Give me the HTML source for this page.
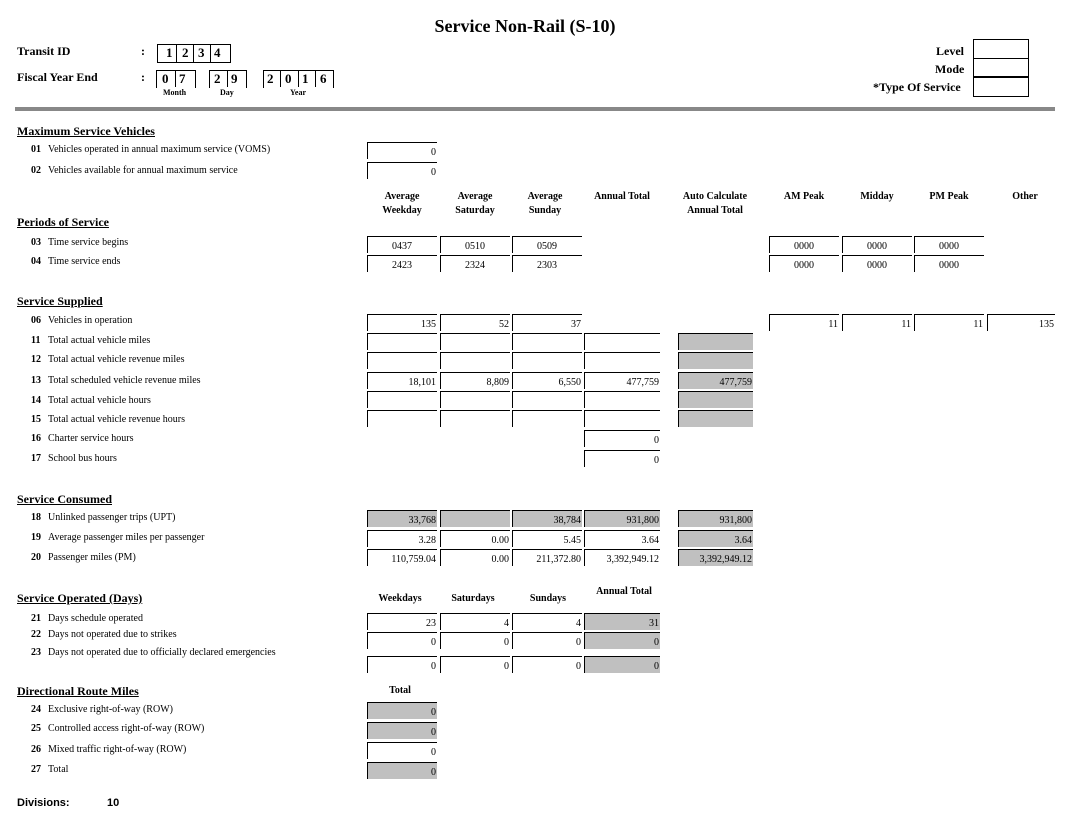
<!DOCTYPE html>
<html><head><meta charset="utf-8"><style>
body{margin:0;width:1082px;height:823px;background:#fff;position:relative;font-family:"Liberation Serif",serif;color:#000;overflow:hidden}
div{position:absolute;white-space:nowrap}
.l{font-size:10px;line-height:14px}
.n{font-weight:bold;left:31px}
.t{left:48px}
.h{font-size:12px;font-weight:bold;text-decoration:underline;left:17px;line-height:16px}
.c{height:17px;border-top:1px solid #000;border-left:1px solid #000;font-size:10px;text-align:right;line-height:20px;padding-right:1px;box-sizing:border-box}
.g{background:#c0c0c0}
.ch{font-size:10px;font-weight:bold;text-align:center;line-height:14px}
.bx{border:1px solid #000;font-size:13px;font-weight:bold;text-align:center;line-height:16px;height:15px;top:0}
.b{font-size:12px;font-weight:bold}
.sm{font-size:8px;font-weight:bold}
</style></head><body>
<div style="left:0;width:1050px;top:16px;text-align:center;font-size:18px;font-weight:bold">Service Non-Rail (S-10)</div>
<div class="b" style="left:17px;top:44px">Transit ID</div>
<div class="b" style="left:17px;top:70px">Fiscal Year End</div>
<div class="b" style="left:141px;top:44px">:</div>
<div class="b" style="left:141px;top:70px">:</div>
<div style="left:157px;top:44px;height:17px;width:72px;border:1px solid #000"></div>
<div class="b" style="left:166px;top:45px;font-size:13px">1</div>
<div class="b" style="left:182px;top:45px;font-size:13px">2</div>
<div class="b" style="left:198px;top:45px;font-size:13px">3</div>
<div class="b" style="left:214px;top:45px;font-size:13px">4</div>
<div style="left:176px;top:44px;width:1px;height:18px;background:#000"></div>
<div style="left:193px;top:44px;width:1px;height:18px;background:#000"></div>
<div style="left:210px;top:44px;width:1px;height:18px;background:#000"></div>
<div style="left:156px;top:70px;width:38px;height:17px;border-top:1px solid #000;border-left:1px solid #000;border-right:1px solid #000"></div>
<div style="left:175px;top:70px;width:1px;height:17px;background:#000"></div>
<div class="b" style="left:162px;top:71px;font-size:13px">0</div><div class="b" style="left:179px;top:71px;font-size:13px">7</div>
<div style="left:209px;top:70px;width:36px;height:17px;border-top:1px solid #000;border-left:1px solid #000;border-right:1px solid #000"></div>
<div style="left:227px;top:70px;width:1px;height:17px;background:#000"></div>
<div class="b" style="left:214px;top:71px;font-size:13px">2</div><div class="b" style="left:231px;top:71px;font-size:13px">9</div>
<div style="left:263px;top:70px;width:69px;height:17px;border-top:1px solid #000;border-left:1px solid #000;border-right:1px solid #000"></div>
<div style="left:280px;top:70px;width:1px;height:17px;background:#000"></div>
<div style="left:298px;top:70px;width:1px;height:17px;background:#000"></div>
<div style="left:315px;top:70px;width:1px;height:17px;background:#000"></div>
<div class="b" style="left:267px;top:71px;font-size:13px">2</div><div class="b" style="left:285px;top:71px;font-size:13px">0</div><div class="b" style="left:302px;top:71px;font-size:13px">1</div><div class="b" style="left:320px;top:71px;font-size:13px">6</div>
<div class="sm" style="left:163px;top:88px">Month</div>
<div class="sm" style="left:220px;top:88px">Day</div>
<div class="sm" style="left:290px;top:88px">Year</div>
<div class="b" style="left:936px;top:44px">Level</div>
<div class="b" style="left:935px;top:62px">Mode</div>
<div class="b" style="left:873px;top:80px">*Type Of Service</div>
<div style="left:973px;top:39px;width:54px;height:18px;border:1px solid #000"></div>
<div style="left:973px;top:58px;width:54px;height:17px;border:1px solid #000"></div>
<div style="left:973px;top:77px;width:54px;height:18px;border:1px solid #000"></div>
<div style="left:15px;top:107px;width:1040px;height:4px;background:#888"></div>

<div class="h" style="top:123px">Maximum Service Vehicles</div>
<div class="l n" style="top:143px">01</div><div class="l t" style="top:143px">Vehicles operated in annual maximum service (VOMS)</div>
<div class="l n" style="top:164px">02</div><div class="l t" style="top:164px">Vehicles available for annual maximum service</div>
<div class="c" style="left:367px;top:142px;width:70px">0</div>
<div class="c" style="left:367px;top:162px;width:70px">0</div>

<div class="ch" style="left:367px;width:70px;top:190px">Average<br>Weekday</div>
<div class="ch" style="left:440px;width:70px;top:190px">Average<br>Saturday</div>
<div class="ch" style="left:510px;width:70px;top:190px">Average<br>Sunday</div>
<div class="ch" style="left:584px;width:76px;top:190px">Annual Total</div>
<div class="ch" style="left:670px;width:90px;top:190px">Auto Calculate<br>Annual Total</div>
<div class="ch" style="left:769px;width:70px;top:190px">AM Peak</div>
<div class="ch" style="left:842px;width:70px;top:190px">Midday</div>
<div class="ch" style="left:914px;width:70px;top:190px">PM Peak</div>
<div class="ch" style="left:990px;width:70px;top:190px">Other</div>

<div class="h" style="top:214px">Periods of Service</div>
<div class="l n" style="top:236px">03</div><div class="l t" style="top:236px">Time service begins</div>
<div class="l n" style="top:255px">04</div><div class="l t" style="top:255px">Time service ends</div>
<div class="c" style="left:367px;top:236px;width:70px;text-align:center">0437</div>
<div class="c" style="left:440px;top:236px;width:70px;text-align:center">0510</div>
<div class="c" style="left:512px;top:236px;width:70px;text-align:center">0509</div>
<div class="c" style="left:769px;top:236px;width:70px;text-align:center">0000</div>
<div class="c" style="left:842px;top:236px;width:70px;text-align:center">0000</div>
<div class="c" style="left:914px;top:236px;width:70px;text-align:center">0000</div>
<div class="c" style="left:367px;top:255px;width:70px;text-align:center">2423</div>
<div class="c" style="left:440px;top:255px;width:70px;text-align:center">2324</div>
<div class="c" style="left:512px;top:255px;width:70px;text-align:center">2303</div>
<div class="c" style="left:769px;top:255px;width:70px;text-align:center">0000</div>
<div class="c" style="left:842px;top:255px;width:70px;text-align:center">0000</div>
<div class="c" style="left:914px;top:255px;width:70px;text-align:center">0000</div>

<div class="h" style="top:293px">Service Supplied</div>
<div class="l n" style="top:314px">06</div><div class="l t" style="top:314px">Vehicles in operation</div>
<div class="l n" style="top:334px">11</div><div class="l t" style="top:334px">Total actual vehicle miles</div>
<div class="l n" style="top:353px">12</div><div class="l t" style="top:353px">Total actual vehicle revenue miles</div>
<div class="l n" style="top:374px">13</div><div class="l t" style="top:374px">Total scheduled vehicle revenue miles</div>
<div class="l n" style="top:394px">14</div><div class="l t" style="top:394px">Total actual vehicle hours</div>
<div class="l n" style="top:413px">15</div><div class="l t" style="top:413px">Total actual vehicle revenue hours</div>
<div class="l n" style="top:432px">16</div><div class="l t" style="top:432px">Charter service hours</div>
<div class="l n" style="top:452px">17</div><div class="l t" style="top:452px">School bus hours</div>

<div class="c" style="left:367px;top:314px;width:70px">135</div>
<div class="c" style="left:440px;top:314px;width:70px">52</div>
<div class="c" style="left:512px;top:314px;width:70px">37</div>
<div class="c" style="left:769px;top:314px;width:70px">11</div>
<div class="c" style="left:842px;top:314px;width:70px">11</div>
<div class="c" style="left:914px;top:314px;width:70px">11</div>
<div class="c" style="left:987px;top:314px;width:68px">135</div>

<div class="c" style="left:367px;top:333px;width:70px"></div><div class="c" style="left:440px;top:333px;width:70px"></div><div class="c" style="left:512px;top:333px;width:70px"></div><div class="c" style="left:584px;top:333px;width:76px"></div><div class="c g" style="left:678px;top:333px;width:75px"></div>
<div class="c" style="left:367px;top:352px;width:70px"></div><div class="c" style="left:440px;top:352px;width:70px"></div><div class="c" style="left:512px;top:352px;width:70px"></div><div class="c" style="left:584px;top:352px;width:76px"></div><div class="c g" style="left:678px;top:352px;width:75px"></div>
<div class="c" style="left:367px;top:372px;width:70px">18,101</div><div class="c" style="left:440px;top:372px;width:70px">8,809</div><div class="c" style="left:512px;top:372px;width:70px">6,550</div><div class="c" style="left:584px;top:372px;width:76px">477,759</div><div class="c g" style="left:678px;top:372px;width:75px">477,759</div>
<div class="c" style="left:367px;top:391px;width:70px"></div><div class="c" style="left:440px;top:391px;width:70px"></div><div class="c" style="left:512px;top:391px;width:70px"></div><div class="c" style="left:584px;top:391px;width:76px"></div><div class="c g" style="left:678px;top:391px;width:75px"></div>
<div class="c" style="left:367px;top:410px;width:70px"></div><div class="c" style="left:440px;top:410px;width:70px"></div><div class="c" style="left:512px;top:410px;width:70px"></div><div class="c" style="left:584px;top:410px;width:76px"></div><div class="c g" style="left:678px;top:410px;width:75px"></div>
<div class="c" style="left:584px;top:430px;width:76px">0</div>
<div class="c" style="left:584px;top:450px;width:76px">0</div>

<div class="h" style="top:491px">Service Consumed</div>
<div class="l n" style="top:511px">18</div><div class="l t" style="top:511px">Unlinked passenger trips (UPT)</div>
<div class="l n" style="top:531px">19</div><div class="l t" style="top:531px">Average passenger miles per passenger</div>
<div class="l n" style="top:551px">20</div><div class="l t" style="top:551px">Passenger miles (PM)</div>
<div class="c g" style="left:367px;top:510px;width:70px">33,768</div><div class="c g" style="left:440px;top:510px;width:70px"></div><div class="c g" style="left:512px;top:510px;width:70px">38,784</div><div class="c g" style="left:584px;top:510px;width:76px">931,800</div><div class="c g" style="left:678px;top:510px;width:75px">931,800</div>
<div class="c" style="left:367px;top:530px;width:70px">3.28</div><div class="c" style="left:440px;top:530px;width:70px">0.00</div><div class="c" style="left:512px;top:530px;width:70px">5.45</div><div class="c" style="left:584px;top:530px;width:76px">3.64</div><div class="c g" style="left:678px;top:530px;width:75px">3.64</div>
<div class="c" style="left:367px;top:549px;width:70px">110,759.04</div><div class="c" style="left:440px;top:549px;width:70px">0.00</div><div class="c" style="left:512px;top:549px;width:70px">211,372.80</div><div class="c" style="left:584px;top:549px;width:76px">3,392,949.12</div><div class="c g" style="left:678px;top:549px;width:75px">3,392,949.12</div>

<div class="h" style="top:590px">Service Operated (Days)</div>
<div class="ch" style="left:367px;width:66px;top:592px">Weekdays</div>
<div class="ch" style="left:440px;width:66px;top:592px">Saturdays</div>
<div class="ch" style="left:512px;width:72px;top:592px">Sundays</div>
<div class="ch" style="left:584px;width:80px;top:585px">Annual Total</div>
<div class="l n" style="top:612px">21</div><div class="l t" style="top:612px">Days schedule operated</div>
<div class="l n" style="top:628px">22</div><div class="l t" style="top:628px">Days not operated due to strikes</div>
<div class="l n" style="top:646px">23</div><div class="l t" style="top:646px">Days not operated due to officially declared emergencies</div>
<div class="c" style="left:367px;top:613px;width:70px">23</div><div class="c" style="left:440px;top:613px;width:70px">4</div><div class="c" style="left:512px;top:613px;width:70px">4</div><div class="c g" style="left:584px;top:613px;width:76px">31</div>
<div class="c" style="left:367px;top:632px;width:70px">0</div><div class="c" style="left:440px;top:632px;width:70px">0</div><div class="c" style="left:512px;top:632px;width:70px">0</div><div class="c g" style="left:584px;top:632px;width:76px">0</div>
<div class="c" style="left:367px;top:656px;width:70px">0</div><div class="c" style="left:440px;top:656px;width:70px">0</div><div class="c" style="left:512px;top:656px;width:70px">0</div><div class="c g" style="left:584px;top:656px;width:76px">0</div>

<div class="h" style="top:683px">Directional Route Miles</div>
<div class="ch" style="left:367px;width:66px;top:684px">Total</div>
<div class="l n" style="top:703px">24</div><div class="l t" style="top:703px">Exclusive right-of-way (ROW)</div>
<div class="l n" style="top:722px">25</div><div class="l t" style="top:722px">Controlled access right-of-way (ROW)</div>
<div class="l n" style="top:743px">26</div><div class="l t" style="top:743px">Mixed traffic right-of-way (ROW)</div>
<div class="l n" style="top:763px">27</div><div class="l t" style="top:763px">Total</div>
<div class="c g" style="left:367px;top:702px;width:70px">0</div>
<div class="c g" style="left:367px;top:722px;width:70px">0</div>
<div class="c" style="left:367px;top:742px;width:70px">0</div>
<div class="c g" style="left:367px;top:762px;width:70px">0</div>

<div style="left:17px;top:797px;font-family:'Liberation Sans',sans-serif;font-size:11px;font-weight:bold">Divisions:</div>
<div style="left:107px;top:797px;font-family:'Liberation Sans',sans-serif;font-size:11px;font-weight:bold">10</div>
</body></html>
